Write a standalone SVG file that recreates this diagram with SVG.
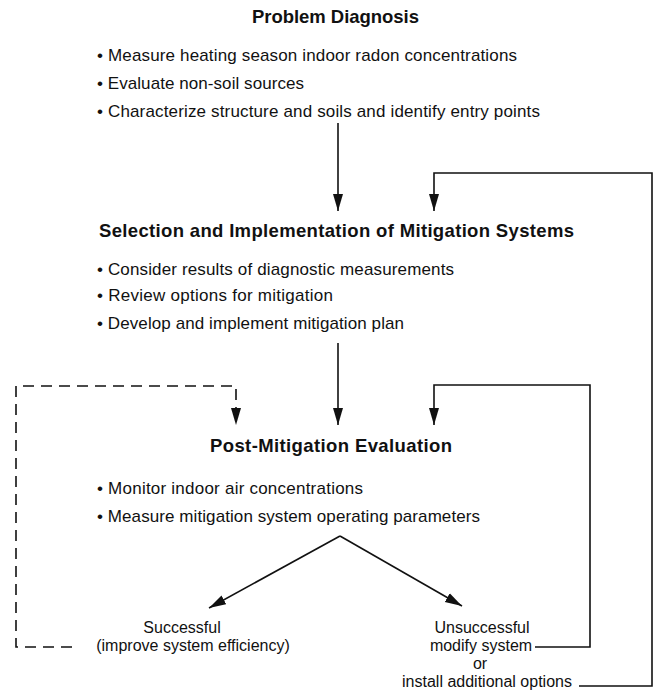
<svg xmlns="http://www.w3.org/2000/svg" width="657" height="692" viewBox="0 0 657 692">
<style>
text{font-family:"Liberation Sans",Arial,Helvetica,sans-serif;fill:#111}
.t{font-size:18.5px;font-weight:bold}
.b{font-size:17px}
.c{font-size:16px;text-anchor:middle}
.ln{fill:none;stroke:#111;stroke-width:1.6}
.ds{stroke-dasharray:11 7}
</style>
<defs>
<marker id="ah" markerUnits="userSpaceOnUse" markerWidth="18" markerHeight="12" refX="17" refY="5" orient="auto" viewBox="0 0 18 10">
<path d="M0,0 L17,5 L0,10 Z" fill="#111"/>
</marker>
</defs>
<rect width="657" height="692" fill="#fff"/>
<g id="diagnosis">
<text class="t" x="252" y="23" textLength="167">Problem Diagnosis</text>
<text class="b" x="97" y="61" textLength="420">• Measure heating season indoor radon concentrations</text>
<text class="b" x="97" y="89" textLength="207">• Evaluate non-soil sources</text>
<text class="b" x="97" y="117" textLength="443">• Characterize structure and soils and identify entry points</text>
</g>
<g id="selection">
<text class="t" x="99" y="237" textLength="475">Selection and Implementation of Mitigation Systems</text>
<text class="b" x="97" y="275" textLength="357">• Consider results of diagnostic measurements</text>
<text class="b" x="97" y="301" textLength="236">• Review options for mitigation</text>
<text class="b" x="97" y="329" textLength="307">• Develop and implement mitigation plan</text>
</g>
<g id="evaluation">
<text class="t" x="210" y="452" textLength="242">Post-Mitigation Evaluation</text>
<text class="b" x="97" y="494" textLength="266">• Monitor indoor air concentrations</text>
<text class="b" x="97" y="522" textLength="383">• Measure mitigation system operating parameters</text>
</g>
<g id="successful">
<text class="c" x="182" y="633">Successful</text>
<text class="c" x="193" y="651">(improve system efficiency)</text>
</g>
<g id="unsuccessful">
<text class="c" x="482" y="633">Unsuccessful</text>
<text class="c" x="481" y="651">modify system</text>
<text class="c" x="480" y="669">or</text>
<text class="c" x="487" y="687">install additional options</text>
</g>
<g id="connectors">
<path class="ln" d="M338,123 V211" marker-end="url(#ah)"/>
<path class="ln" d="M579,686 H652 V173 H434 V211" marker-end="url(#ah)"/>
<path class="ln" d="M338,343 V425" marker-end="url(#ah)"/>
<path class="ln" d="M535,647 H590 V385 H434 V425" marker-end="url(#ah)"/>
<path class="ln ds" d="M72,647 H16 V386 H236 V425" marker-end="url(#ah)"/>
<path class="ln" d="M340,536 L209,608" marker-end="url(#ah)"/>
<path class="ln" d="M340,536 L462,606" marker-end="url(#ah)"/>
</g>
</svg>
